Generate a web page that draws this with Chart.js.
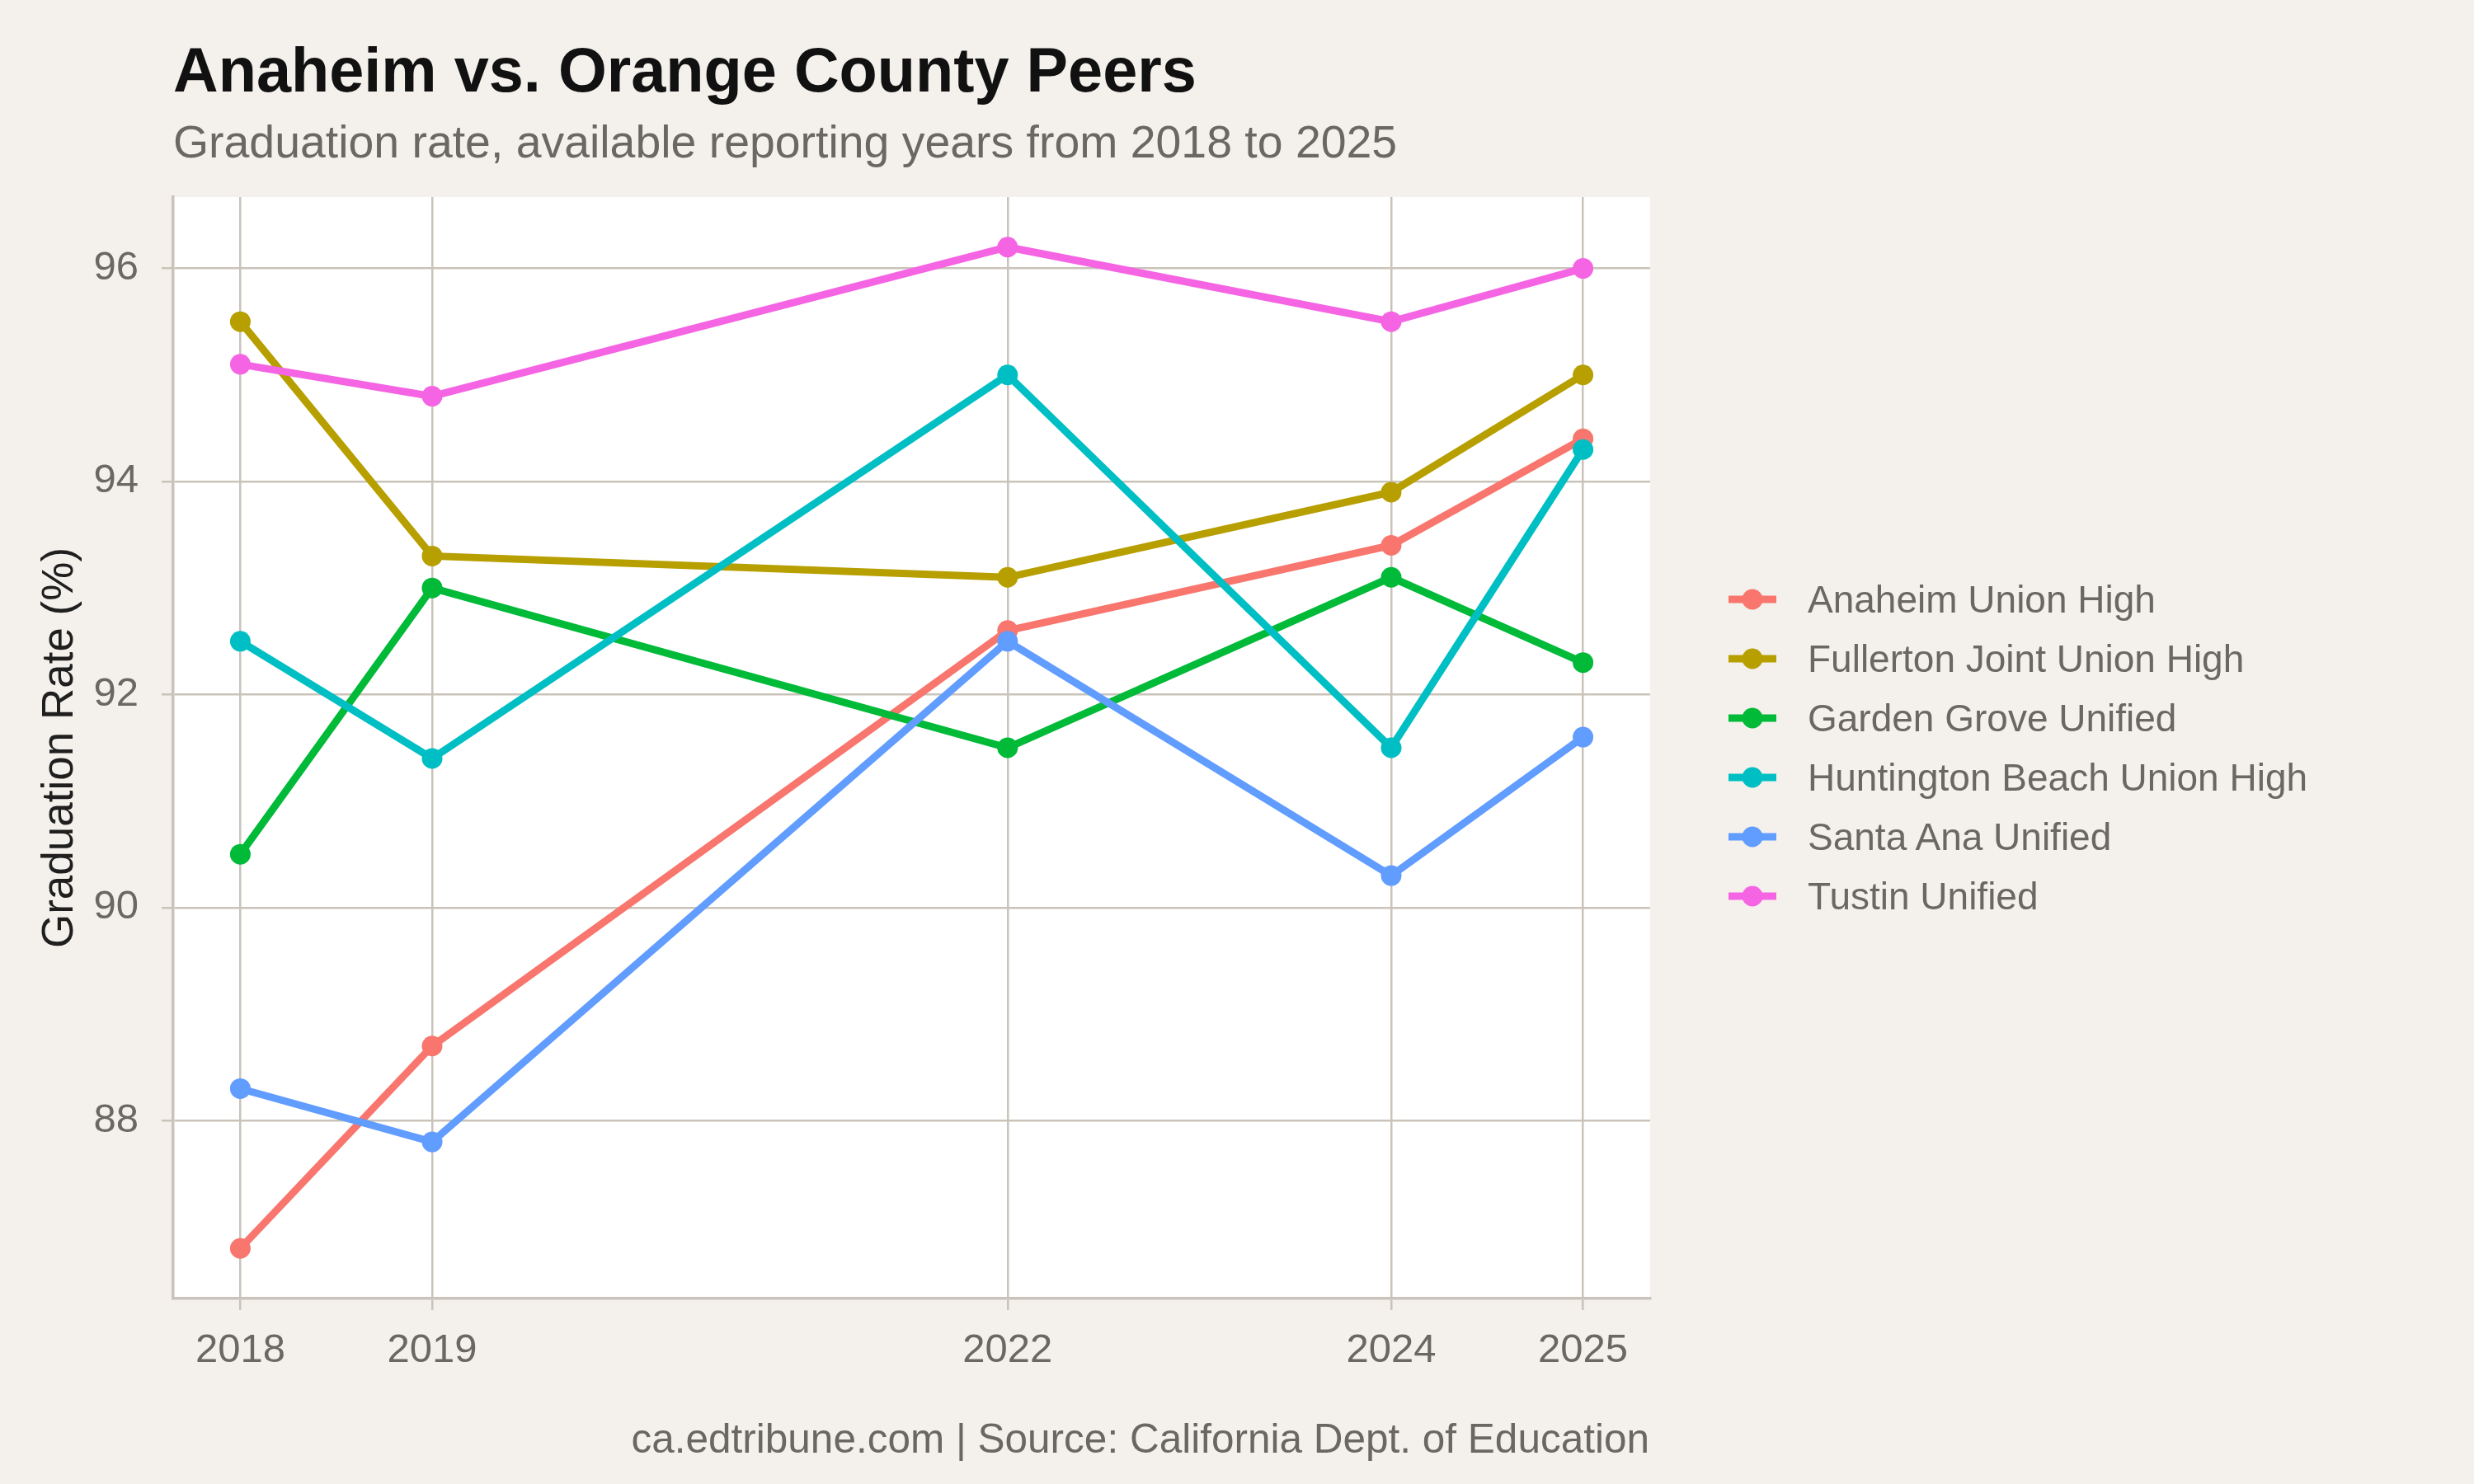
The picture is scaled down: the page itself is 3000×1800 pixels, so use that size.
<!DOCTYPE html>
<html>
<head>
<meta charset="utf-8">
<script src="https://cdn.jsdelivr.net/npm/chart.js@4.4.1/dist/chart.umd.min.js"></script>
<style>
  html, body { margin: 0; padding: 0; background: #f4f1ec; }
  #page { position: relative; width: 3000px; height: 1800px; background: #f4f1ec; font-family: "Liberation Sans", Arial, sans-serif; overflow: hidden; }
  #chart { position: absolute; left: 0; top: 0; }
  .title { position: absolute; left: 210px; top: 47px; font-size: 75.7px; line-height: 75.7px; font-weight: bold; color: #111; white-space: nowrap; }
  .subtitle { position: absolute; left: 210px; top: 145px; font-size: 55.4px; line-height: 55.4px; color: #6b6762; white-space: nowrap; }
  .caption { position: absolute; right: 1000px; top: 1720px; font-size: 49.5px; line-height: 49.5px; color: #6b6762; white-space: nowrap; }
  #legend { position: absolute; left: 2096px; top: 691px; }
  .legend-row { display: flex; align-items: center; height: 72px; }
  .legend-row svg { display: block; margin-right: 38px; }
  .legend-row span { font-size: 46px; color: #6b6762; white-space: nowrap; }
</style>
</head>
<body>
<div id="page">
  <canvas id="chart" width="3000" height="1800"></canvas>
  <div class="title">Anaheim vs. Orange County Peers</div>
  <div class="subtitle">Graduation rate, available reporting years from 2018 to 2025</div>
  <div class="caption">ca.edtribune.com | Source: California Dept. of Education</div>
  <div id="legend"></div>
</div>
<script>
// --- adatok ---
const years = [2018, 2019, 2022, 2024, 2025];
const districts = [
    'Anaheim Union High', 'Fullerton Joint Union High', 'Garden Grove Unified',
    'Huntington Beach Union High', 'Santa Ana Unified', 'Tustin Unified'
];
const anaheimUnionHigh   = [86.8, 88.7, 92.6, 93.4, 94.4];
const fullertonJointHigh = [95.5, 93.3, 93.1, 93.9, 95.0];
const gardenGroveUnified = [90.5, 93.0, 91.5, 93.1, 92.3];
const huntingtonBeachHigh = [92.5, 91.4, 95.0, 91.5, 94.3];
const santaAnaUnified    = [88.3, 87.8, 92.5, 90.3, 91.6];
const tustinUnified      = [95.1, 94.8, 96.2, 95.5, 96.0];
const yTicks = [88, 90, 92, 94, 96];

const seriesValues = [anaheimUnionHigh, fullertonJointHigh, gardenGroveUnified,
                      huntingtonBeachHigh, santaAnaUnified, tustinUnified];
const seriesColors = ['#F8766D', '#B79F00', '#00BA38', '#00BFC4', '#619CFF', '#F564E3'];

const gridColor = '#c9c3b9';
const textGrey = '#6b6762';
const fontFamily = '"Liberation Sans", Arial, sans-serif';

// ggplot-style 5% expansion of the data range
const allVals = seriesValues.flat();
const yLo = Math.min(...allVals), yHi = Math.max(...allVals);
const xLo = Math.min(...years), xHi = Math.max(...years);
const yPad = (yHi - yLo) * 0.05, xPad = (xHi - xLo) * 0.05;

// lines first (all series), then points on top, like geom_line + geom_point
const lineSets = seriesValues.map((vals, i) => ({
    label: districts[i],
    data: years.map((yr, j) => ({ x: yr, y: vals[j] })),
    borderColor: seriesColors[i],
    borderWidth: 9,
    pointRadius: 0,
    fill: false,
    tension: 0,
    order: 20 - i
}));
const pointSets = seriesValues.map((vals, i) => ({
    label: districts[i] + ' points',
    data: years.map((yr, j) => ({ x: yr, y: vals[j] })),
    showLine: false,
    pointRadius: 12.5,
    pointBorderWidth: 0,
    pointBackgroundColor: seriesColors[i],
    borderColor: seriesColors[i],
    order: 10 - i
}));

const panelBackground = {
    id: 'panelBackground',
    beforeDraw(chart) {
        const { ctx, chartArea: a } = chart;
        ctx.save();
        ctx.fillStyle = '#ffffff';
        ctx.fillRect(a.left, a.top, a.right - a.left, a.bottom - a.top);
        ctx.restore();
    }
};

new Chart(document.getElementById('chart').getContext('2d'), {
    type: 'line',
    data: { datasets: [...lineSets, ...pointSets] },
    options: {
        responsive: false,
        animation: false,
        layout: { padding: { left: 0, top: 239, right: 999, bottom: 125 } },
        scales: {
            x: {
                type: 'linear',
                min: xLo - xPad,
                max: xHi + xPad,
                afterBuildTicks: axis => { axis.ticks = years.map(v => ({ value: v })); },
                afterFit: axis => { axis.height = 100; },
                grid: { color: gridColor, lineWidth: 2.5, tickLength: 14, drawTicks: true },
                border: { display: true, color: gridColor, width: 3.5 },
                ticks: {
                    color: textGrey, padding: 20, maxRotation: 0, autoSkip: false,
                    font: { family: fontFamily, size: 49 },
                    callback: v => String(v)
                }
            },
            y: {
                type: 'linear',
                min: yLo - yPad,
                max: yHi + yPad,
                afterBuildTicks: axis => { axis.ticks = yTicks.map(v => ({ value: v })); },
                afterFit: axis => { axis.width = 210; },
                grid: { color: gridColor, lineWidth: 2.5, tickLength: 14, drawTicks: true },
                border: { display: true, color: gridColor, width: 3.5 },
                ticks: {
                    color: textGrey, padding: 28,
                    font: { family: fontFamily, size: 49 },
                    callback: v => String(v)
                },
                title: {
                    display: true,
                    text: 'Graduation Rate (%)',
                    color: '#1f1f1f',
                    font: { family: fontFamily, size: 53 },
                    padding: { top: 42, bottom: 0 }
                }
            }
        },
        plugins: {
            legend: { display: false },
            title: { display: false },
            tooltip: { enabled: false }
        }
    },
    plugins: [panelBackground]
});

// --- jelmagyarázat (vonal + pont) ---
const legendBox = document.getElementById('legend');
districts.forEach((name, i) => {
    const row = document.createElement('div');
    row.className = 'legend-row';
    row.innerHTML =
        `<svg width="58" height="30" viewBox="0 0 58 30">` +
        `<line x1="0" y1="15" x2="58" y2="15" stroke="${seriesColors[i]}" stroke-width="9"/>` +
        `<circle cx="29" cy="15" r="12.5" fill="${seriesColors[i]}"/></svg>` +
        `<span>${name}</span>`;
    legendBox.appendChild(row);
});
</script>
</body>
</html>
